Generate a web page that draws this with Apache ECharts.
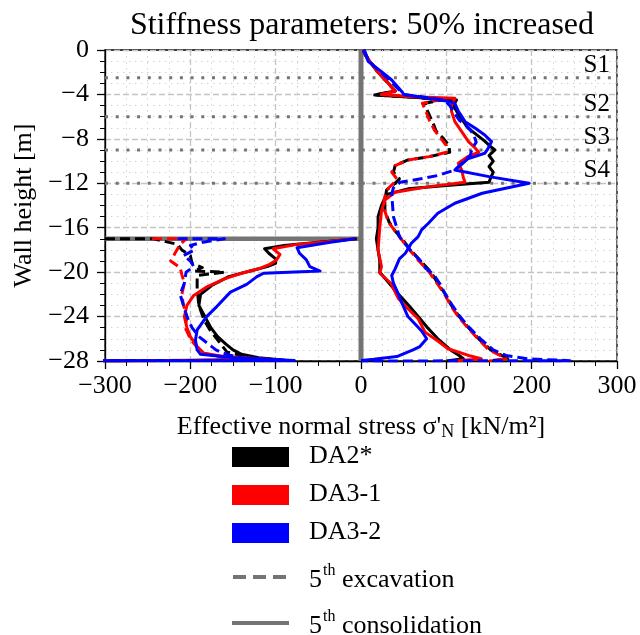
<!DOCTYPE html>
<html><head><meta charset="utf-8">
<script src="https://cdn.jsdelivr.net/npm/echarts@6/dist/echarts.min.js"></script>
<style>html,body{margin:0;padding:0;background:#fff}#c{width:640px;height:635px}</style>
</head><body><div id="c"></div>
<script>
const FONT = 'Liberation Serif';
const titleText = 'Stiffness parameters: 50% increased';
const xMin = -300, xMax = 300, xStep = 100;
const yMin = -28, yMax = 0, yStep = 4;
const strutNames = ['S1', 'S2', 'S3', 'S4'];
const strutDepths = [-2.5, -6, -9, -12];
const wallLine = [[0, 0], [0, -28]];
const excavationLine = [[-300, -17], [0, -17]];
const legendNames = ['DA2*', 'DA3-1', 'DA3-2'];
const legendColors = ['#000000', '#ff0000', '#0000ff'];

// Retained side [stress kN/m², depth m]
const da2ExcRight = [[3,0],[4,-0.3],[10,-1],[20,-2],[32,-3],[40,-3.7],[16,-4.05],[60,-4.25],[95,-4.5],[75,-4.8],[78,-5.5],[84,-6.5],[88,-7.3],[97,-8],[103,-8.6],[104,-9.2],[80,-9.6],[55,-9.9],[40,-10.4],[38,-11],[45,-11.6],[40,-12],[30,-12.6],[28,-13.5],[28,-14.5],[33,-15.5],[40,-16.3],[48,-17],[58,-18],[70,-19],[82,-20],[90,-21],[99,-22],[106,-23],[115,-24],[126,-25],[138,-26],[152,-27],[165,-27.5],[172,-27.8],[150,-28]];
const da2ConRight = [[3,0],[4,-0.3],[10,-1],[20,-2],[32,-3],[40,-3.7],[16,-4.05],[60,-4.25],[112,-4.5],[108,-5],[112,-5.5],[118,-6.2],[125,-7],[135,-7.6],[145,-8.2],[152,-8.7],[157,-9],[150,-9.5],[155,-10],[150,-10.5],[155,-11],[152,-11.5],[150,-11.9],[100,-12.2],[55,-12.5],[30,-13],[24,-14],[20,-15],[20,-16],[18,-17],[20,-18],[22,-19],[22,-20],[33,-21],[44,-22],[56,-23],[67,-24],[78,-25],[90,-26],[105,-27],[115,-27.5],[120,-27.8],[100,-28]];
const da31ExcRight = [[3,0],[4,-0.3],[10,-1],[20,-2],[32,-3],[40,-3.7],[24,-4.0],[60,-4.2],[100,-4.4],[72,-4.8],[76,-5.5],[80,-6.3],[86,-7.2],[94,-8],[100,-8.6],[100,-9.2],[80,-9.6],[55,-9.9],[40,-10.4],[36,-11],[42,-11.6],[38,-12],[30,-12.6],[27,-13.5],[28,-14.5],[32,-15.5],[40,-16.3],[47,-17],[57,-18],[68,-19],[80,-20],[89,-21],[98,-22],[105,-23],[114,-24],[125,-25],[137,-26],[150,-27],[163,-27.5],[170,-27.8],[150,-28]];
const da31ConRight = [[3,0],[4,-0.3],[10,-1],[20,-2],[32,-3],[40,-3.7],[24,-4.0],[60,-4.2],[110,-4.35],[106,-5],[106,-5.5],[110,-6.45],[118,-7.35],[126,-8.25],[134,-8.85],[138,-9.2],[125,-9.6],[114,-10.2],[118,-10.8],[120,-11.5],[122,-11.9],[80,-12.3],[40,-12.8],[28,-13.5],[24,-14.5],[22,-16],[20,-18],[24,-19.5],[22,-20.1],[35,-21],[44,-22.4],[55,-23.3],[67,-24.2],[75,-25.4],[90,-26.2],[102,-26.9],[126,-27.5],[141,-27.8],[110,-28]];
const da32ExcRight = [[3,0],[5,-0.2],[9,-1],[23,-2],[35,-2.8],[46,-3.7],[50,-4.0],[98,-4.5],[104,-5],[108,-5.5],[115,-6.3],[126,-7],[132,-7.6],[135,-8.3],[130,-8.9],[128,-9.5],[118,-10.2],[110,-10.8],[90,-11.3],[70,-11.6],[46,-11.9],[38,-12.4],[36,-13],[37,-14],[38,-15],[42,-16],[45,-16.8],[52,-17.5],[60,-18.2],[70,-19],[75,-19.6],[85,-20.2],[92,-21],[99,-22],[107,-23],[116,-24],[127,-25],[140,-26],[155,-27],[170,-27.5],[195,-27.8],[245,-27.97],[0,-28]];
const da32ConRight = [[3,0],[5,-0.15],[8.6,-1.05],[24,-1.95],[36,-2.7],[48,-3.75],[50,-4.0],[100,-4.6],[110,-4.8],[114,-5.5],[122,-6.45],[134,-7.05],[145,-7.65],[153,-8.25],[149,-8.85],[145,-9.3],[125,-9.8],[118,-10.3],[110,-10.8],[150,-11.4],[197,-12],[142,-12.9],[110,-13.8],[90,-14.7],[79,-15.6],[71,-16.2],[67,-16.8],[59,-17.4],[52,-18.3],[45,-18.8],[40,-19.7],[36,-20.3],[38,-21],[44,-22],[48,-22.8],[55,-24],[65,-24.8],[71,-25.3],[77,-26],[69,-26.7],[61,-27],[42,-27.6],[15,-27.85],[0,-27.95]];

// Excavated side
const da2ExcLeft = [[-300,-17],[-243,-17],[-215,-17.5],[-210,-18],[-200,-18.5],[-198,-19.2],[-186,-19.6],[-196,-19.9],[-160,-20.0],[-192,-20.3],[-192,-21.5],[-190,-23],[-184,-24.3],[-177,-25.2],[-165,-26.4],[-157,-27.2],[-130,-27.7],[-95,-27.92],[-400,-28]];
const da2ConLeft = [[-5,-17],[-50,-17.3],[-90,-17.6],[-113,-17.9],[-108,-18.3],[-100,-18.8],[-100,-19.2],[-110,-19.5],[-130,-19.9],[-155,-20.4],[-175,-21.2],[-188,-22],[-190,-23],[-183,-24],[-176,-25],[-168,-25.8],[-158,-26.5],[-150,-27],[-140,-27.4],[-120,-27.7],[-92,-27.9],[-400,-28]];
const da31ExcLeft = [[-245,-17],[-205,-17],[-212,-17.5],[-218,-18.3],[-223,-19],[-212,-19.6],[-210,-20.2],[-207,-21],[-210,-22],[-208,-23],[-204,-24],[-206,-25],[-200,-26],[-192,-26.8],[-185,-27.3],[-160,-27.7],[-100,-27.92],[-400,-28]];
const da31ConLeft = [[-8,-17],[-45,-17.3],[-75,-17.5],[-103,-17.9],[-95,-18.4],[-99,-18.9],[-107,-19.3],[-120,-19.7],[-140,-20.1],[-160,-20.6],[-180,-21.3],[-196,-22.1],[-204,-23],[-207,-24],[-204,-25],[-200,-25.8],[-192,-26.7],[-184,-27.3],[-161,-27.6],[-95,-27.9],[-400,-28]];
const da32ExcLeft = [[-215,-17],[-160,-17],[-185,-17.3],[-200,-17.6],[-195,-18],[-208,-18.5],[-200,-19],[-196,-19.5],[-205,-20],[-207,-21],[-212,-22],[-208,-23],[-204,-24],[-198,-25],[-190,-25.8],[-180,-26.4],[-170,-27],[-158,-27.4],[-140,-27.7],[-90,-27.92],[-400,-28]];
const da32ConLeft = [[-7,-17],[-36,-17.3],[-75,-17.8],[-72,-18.3],[-64,-18.9],[-60,-19.5],[-48,-19.9],[-114,-20.1],[-122,-20.4],[-134,-21.1],[-153,-21.8],[-169,-23.1],[-181,-24],[-192,-25.2],[-194,-26.1],[-192,-27],[-188,-27.4],[-149,-27.7],[-78,-27.95],[-400,-28]];

const GREY = '#747474';
const DASH = [10, 5];
function minus(v) { return v < 0 ? '\u2212' + Math.abs(v) : String(v); }
function curve(name, data, color, dashed) {
  return { name: name, type: 'line', data: data, symbol: 'none', showSymbol: false, silent: true,
    lineStyle: { color: color, width: 3, type: dashed ? DASH : 'solid', join: 'round' }, z: 5 };
}
const series = [
  { type: 'line', data: wallLine, symbol: 'none', lineStyle: { color: GREY, width: 5 }, z: 3, silent: true },
  { type: 'line', data: excavationLine, symbol: 'none', lineStyle: { color: GREY, width: 4.5 }, z: 3, silent: true }
];
strutDepths.forEach(function (d, i) {
  series.push({ type: 'line', name: strutNames[i], data: [[xMin, d], [xMax, d]], symbol: 'none', silent: true,
    lineStyle: { color: GREY, width: 3, type: [3, 7.7], cap: 'butt' }, z: 4,
    endLabel: { show: true, formatter: strutNames[i], color: '#000', opacity: 1, fontFamily: FONT, fontSize: 25,
      align: 'right', verticalAlign: 'bottom', distance: 0, offset: [-7, 0] } });
});
[
  ['DA2* exc', da2ExcRight, 0, true], ['DA2* con', da2ConRight, 0, false],
  ['DA2* exc', da2ExcLeft, 0, true], ['DA2* con', da2ConLeft, 0, false],
  ['DA3-1 exc', da31ExcRight, 1, true], ['DA3-1 con', da31ConRight, 1, false],
  ['DA3-1 exc', da31ExcLeft, 1, true], ['DA3-1 con', da31ConLeft, 1, false],
  ['DA3-2 exc', da32ExcRight, 2, true], ['DA3-2 con', da32ConRight, 2, false],
  ['DA3-2 exc', da32ExcLeft, 2, true], ['DA3-2 con', da32ConLeft, 2, false]
].forEach(function (s) { series.push(curve(s[0], s[1], legendColors[s[2]], s[3])); });

const legendY = [457, 495, 533];
const graphics = [];
legendNames.forEach(function (n, i) {
  graphics.push({ type: 'rect', left: 232, top: legendY[i] - 10, shape: { width: 57, height: 20 }, style: { fill: legendColors[i] } });
  graphics.push({ type: 'text', left: 309, top: legendY[i] - 14, style: { text: n, font: '26px "Liberation Serif"', fill: '#000' } });
});
graphics.push({ type: 'line', shape: { x1: 233, y1: 577, x2: 289, y2: 577 }, style: { stroke: GREY, lineWidth: 4, lineDash: [13, 7] } });
graphics.push({ type: 'line', shape: { x1: 232, y1: 623, x2: 289, y2: 623 }, style: { stroke: GREY, lineWidth: 4 } });
[['excavation', 563], ['consolidation', 609]].forEach(function (t) {
  graphics.push({ type: 'text', left: 309, top: t[1], style: {
    text: '{n|5}{s|th}{n| ' + t[0] + '}',
    rich: { n: { font: '26px "Liberation Serif"', verticalAlign: 'bottom', lineHeight: 30 },
            s: { font: '16px "Liberation Serif"', verticalAlign: 'top', lineHeight: 30, padding: [0, 0, 0, 1] } }, fill: '#000' } });
});

const chart = echarts.init(document.getElementById('c'), null, { renderer: 'canvas' });
chart.setOption({
  animation: false,
  backgroundColor: '#fff',
  title: { text: titleText, left: 362, top: 10, textAlign: 'center', padding: 0,
    textStyle: { fontFamily: FONT, fontSize: 32, fontWeight: 'normal', color: '#000' } },
  grid: { left: 105, top: 50, width: 512, height: 311, show: true, borderColor: '#000', borderWidth: 1.3, backgroundColor: 'transparent' },
  xAxis: { type: 'value', min: xMin, max: xMax, interval: xStep,
    name: "Effective normal stress σ'{sub|N} [kN/m²]", nameLocation: 'middle', nameGap: 52,
    nameTextStyle: { fontFamily: FONT, fontSize: 26, color: '#000',
      rich: { sub: { fontFamily: FONT, fontSize: 18, verticalAlign: 'bottom', padding: [10, 0, 0, 0] } } },
    axisLine: { show: true, onZero: false, lineStyle: { color: '#000', width: 1.3 } },
    axisTick: { show: true, length: 8, lineStyle: { color: '#000', width: 1.3 } },
    minorTick: { show: true, splitNumber: 4, length: 5, lineStyle: { color: '#000', width: 1 } },
    splitLine: { show: true, lineStyle: { color: '#c4c4c4', width: 1.3, type: [6, 3] } },
    minorSplitLine: { show: true, lineStyle: { color: '#d2d2d2', width: 1, type: [1.5, 4.5] } },
    axisLabel: { margin: 12, fontFamily: FONT, fontSize: 26, color: '#000', formatter: minus } },
  yAxis: { type: 'value', min: yMin, max: yMax, interval: yStep,
    name: 'Wall height [m]', nameLocation: 'middle', nameGap: 66, nameRotate: 90,
    nameTextStyle: { fontFamily: FONT, fontSize: 26, color: '#000' },
    axisLine: { show: true, onZero: false, lineStyle: { color: '#000', width: 1.3 } },
    axisTick: { show: true, length: 8, lineStyle: { color: '#000', width: 1.3 } },
    minorTick: { show: true, splitNumber: 4, length: 5, lineStyle: { color: '#000', width: 1 } },
    splitLine: { show: true, lineStyle: { color: '#c4c4c4', width: 1.3, type: [6, 3] } },
    minorSplitLine: { show: true, lineStyle: { color: '#d2d2d2', width: 1, type: [1.5, 4.5] } },
    axisLabel: { margin: 16, fontFamily: FONT, fontSize: 26, color: '#000', formatter: minus } },
  series: series,
  graphic: graphics
});
</script></body></html>
